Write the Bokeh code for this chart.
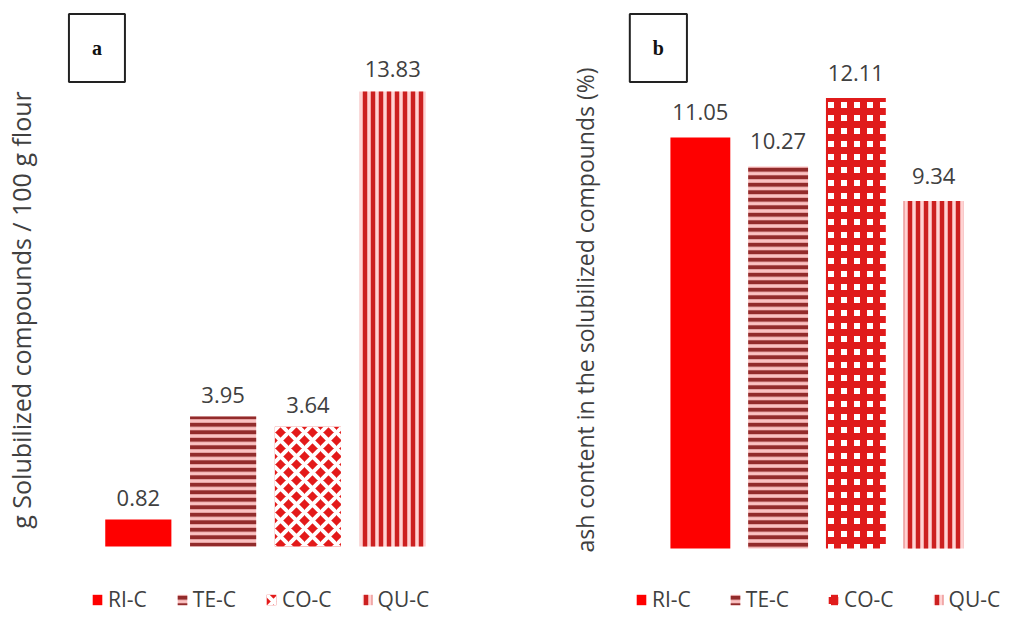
from bokeh.plotting import figure
from bokeh.models import ColumnDataSource, Legend, LegendItem, Label, FixedTicker, FactorRange, Range1d
from bokeh.layouts import row
from bokeh.embed import file_html
from bokeh.resources import INLINE
from bokeh.core.properties import value

categories = ["RI-C", "TE-C", "CO-C", "QU-C"]
solubilized = [0.82, 3.95, 3.64, 13.83]
ash = [11.05, 10.27, 12.11, 9.34]
label_a = "g Solubilized compounds / 100 g flour"
label_b = "ash content in the solubilized compounds (%)"

FONT = "Open Sans"
TXT = "#404040"

def styles(panel):
    co = (dict(fill_color="#e31a1a", hatch_color="white", hatch_pattern="diagonal_cross",
               hatch_scale=16, hatch_weight=4) if panel == "a" else
          dict(fill_color="white", hatch_color="#e01b1b", hatch_pattern="cross",
               hatch_scale=13, hatch_weight=7))
    return [
        dict(fill_color="#fe0000"),
        dict(fill_color="#fbc2c2", hatch_color="#922b2b", hatch_pattern="horizontal_line",
             hatch_scale=7.5, hatch_weight=4),
        co,
        dict(fill_color="#ffd3d3", hatch_color="#cc2020", hatch_pattern="vertical_line",
             hatch_scale=8, hatch_weight=4.5),
    ]

def make(panel, vals, ylabel, width, ylo, yhi, bl, br, pad, bw, yfs, standoff, lab_off,
         leg_x, leg_spacing, box_x, box_y):
    p = figure(width=width, height=619,
               x_range=FactorRange(*categories, range_padding=pad, range_padding_units="absolute"),
               y_range=Range1d(ylo, yhi), output_backend="svg", toolbar_location=None,
               min_border_left=bl, min_border_right=br, min_border_bottom=0, min_border_top=0)
    p.outline_line_color = None
    p.xgrid.visible = False
    p.ygrid.visible = False
    p.xaxis.visible = False
    ax = p.yaxis[0]
    ax.ticker = FixedTicker(ticks=[])
    ax.axis_line_color = None
    ax.major_tick_line_color = None
    ax.minor_tick_line_color = None
    ax.major_label_text_font_size = "0px"
    ax.axis_label = ylabel
    ax.axis_label_text_font = FONT
    ax.axis_label_text_font_style = "normal"
    ax.axis_label_text_font_size = yfs
    ax.axis_label_text_color = TXT
    ax.axis_label_standoff = standoff

    items = []
    for c, v, st in zip(categories, vals, styles(panel)):
        src = ColumnDataSource(dict(x=[c], top=[v], lab=[f"{v:.2f}"]))
        r = p.vbar(x="x", top="top", width=bw, source=src, line_color=None, **st)
        items.append(LegendItem(label=c, renderers=[r]))
        p.text(x="x", y="top", text="lab", source=src, text_align="center",
               text_baseline="bottom", y_offset=lab_off, text_font=value(FONT),
               text_font_size="22px", text_color=TXT)

    leg = Legend(items=items, orientation="horizontal", location=(leg_x, 6),
                 glyph_width=12, glyph_height=13, label_standoff=5, spacing=leg_spacing,
                 padding=0, margin=0, border_line_color=None, background_fill_alpha=0,
                 label_text_font=FONT, label_text_font_size="21px", label_text_color=TXT)
    p.add_layout(leg, "center")

    lbl = Label(x=box_x, y=box_y, x_units="data", y_units="data", text=panel,
                text_font="Liberation Serif", text_font_style="bold", text_font_size="20px",
                text_color="#111111", text_align="center", text_baseline="middle",
                border_line_color="#222222", border_line_width=2, background_fill_color="white",
                padding=23)
    p.add_layout(lbl)
    return p

pa = make("a", solubilized, label_a, 505, -2.219, 16.596, 60, 36, 0.406, 0.78, "25px", 24, -14,
          30, 29, 0.012, 15.15)
pb = make("b", ash, label_b, 504, -1.909, 14.73, 122, 3, 0.437, 0.77, "23px", 27, -17,
          8, 38, -0.04, 13.45)

lay = row(pa, pb)
open("out.html", "w").write(file_html(lay, INLINE))
